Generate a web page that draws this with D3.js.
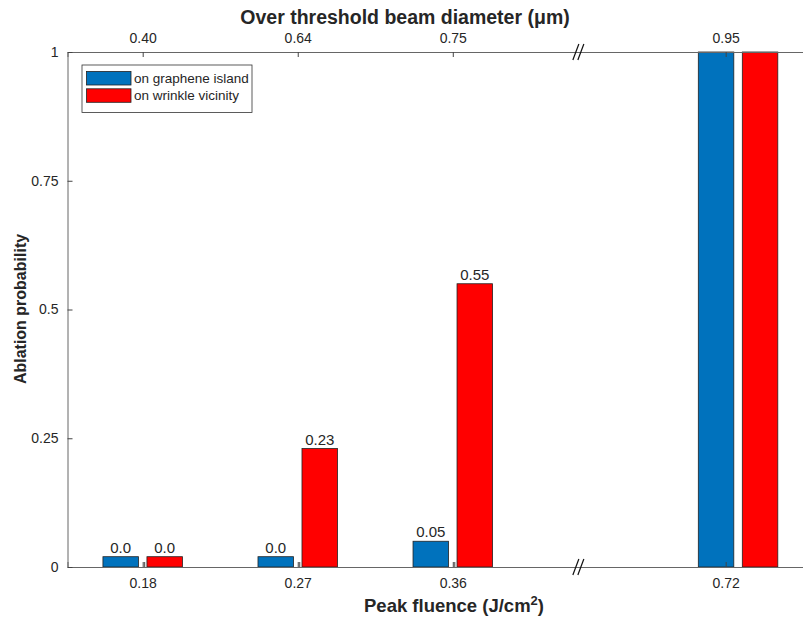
<!DOCTYPE html>
<html>
<head>
<meta charset="utf-8">
<script src="https://cdn.jsdelivr.net/npm/d3@7"></script>
<style>
  body { margin: 0; background: #fff; }
  text { font-family: "Liberation Sans", Arial, Helvetica, sans-serif; fill: #262626; }
</style>
</head>
<body>
<div id="chart"></div>
<script>
// data
var fluence = ["0.18", "0.27", "0.36", "0.72"];
var diameter = ["0.40", "0.64", "0.75", "0.95"];
var slotPos = [1, 2, 3, 4.84];      // category position of each bar group
var tickPos = [1, 2, 3, 4.76];      // category position of each tick label
var breakPos = 3.81;                 // axis break
var islandVals = [0.02, 0.02, 0.05, 1];
var wrinkleVals = [0.02, 0.23, 0.55, 1];
var islandLabels = ["0.0", "0.0", "0.05", ""];
var wrinkleLabels = ["0.0", "0.23", "0.55", ""];
var seriesNames = ["on graphene island", "on wrinkle vicinity"];
var seriesColors = ["#0072BD", "#FF0000"];
var yTicks = [0, 0.25, 0.5, 0.75, 1];

var W = 803, H = 617;
var svg = d3.select("#chart").append("svg").attr("width", W).attr("height", H);

var x = d3.scaleLinear().domain([0.515, 5.304]).range([67.5, 810]);
var y = d3.scaleLinear().domain([0, 1]).range([567, 52]);
var barW = 35.5, barOff = 22;

var series = [
  {vals: islandVals, labels: islandLabels, color: seriesColors[0], off: -barOff},
  {vals: wrinkleVals, labels: wrinkleLabels, color: seriesColors[1], off: barOff}
];

// bars
series.forEach(function(s){
  var g = svg.append("g");
  g.selectAll("rect").data(s.vals).enter().append("rect")
    .attr("x", function(d, i){ return x(slotPos[i]) + s.off - barW / 2; })
    .attr("y", function(d){ return y(d); })
    .attr("width", barW)
    .attr("height", function(d){ return y(0) - y(d); })
    .attr("fill", s.color)
    .attr("stroke", "#222")
    .attr("stroke-width", 0.8);
  g.selectAll("text").data(s.labels).enter().append("text")
    .attr("x", function(d, i){ return x(slotPos[i]) + s.off; })
    .attr("y", function(d, i){ return y(s.vals[i]) - 4; })
    .attr("text-anchor", "middle")
    .style("font-size", "15px")
    .text(function(d){ return d; });
});

// axes
var axB = d3.axisBottom(x).tickValues(tickPos).tickSize(-5)
  .tickFormat(function(d, i){ return fluence[i]; });
var axT = d3.axisTop(x).tickValues(tickPos).tickSize(-5)
  .tickFormat(function(d, i){ return diameter[i]; });
var axL = d3.axisLeft(y).tickValues(yTicks).tickSize(-5)
  .tickFormat(function(d){ return String(d); });

function styleAxis(g){
  g.attr("font-size", null).attr("font-family", null);
  g.select(".domain").attr("stroke", "#666").attr("stroke-width", 1);
  g.selectAll(".tick line").attr("stroke", "#444");
  g.selectAll(".tick text").style("font-size", "14px").attr("fill", "#262626");
}

svg.append("g").attr("transform", "translate(0," + y(0) + ")").call(axB).call(styleAxis)
  .selectAll(".tick text").attr("y", 11).attr("dy", "0.71em");
svg.append("g").attr("transform", "translate(0," + y(1) + ")").call(axT).call(styleAxis)
  .selectAll(".tick text").attr("y", -9).attr("dy", "0");
svg.append("g").attr("transform", "translate(" + x(0.515) + ",0)").call(axL).call(styleAxis)
  .selectAll(".tick text").attr("x", -9);

// second small tick next to the first three groups (doubled ticks in the original)
svg.append("g").selectAll("line").data(tickPos.slice(0, 3)).enter().append("line")
  .attr("x1", function(d){ return x(d) + 2; })
  .attr("x2", function(d){ return x(d) + 2; })
  .attr("y1", y(0)).attr("y2", y(0) - 5)
  .attr("stroke", "#444");

// axis break marks
[y(0), y(1)].forEach(function(yy){
  [-2.5, 2.5].forEach(function(dx){
    var cx = x(breakPos) + dx;
    svg.append("line")
      .attr("x1", cx - 3).attr("y1", yy + 8)
      .attr("x2", cx + 3).attr("y2", yy - 8)
      .attr("stroke", "#111").attr("stroke-width", 1.2);
  });
});

// titles
svg.append("text").attr("x", 405).attr("y", 24).attr("text-anchor", "middle")
  .style("font-size", "19.5px").style("font-weight", "bold")
  .text("Over threshold beam diameter (\u03bcm)");

var xt = svg.append("text").attr("x", 454).attr("y", 612).attr("text-anchor", "middle")
  .style("font-size", "18.5px").style("font-weight", "bold");
xt.append("tspan").text("Peak fluence (J/cm");
xt.append("tspan").attr("dy", -7).style("font-size", "13px").text("2");
xt.append("tspan").attr("dy", 7).text(")");

svg.append("text").attr("transform", "translate(26,309) rotate(-90)")
  .attr("text-anchor", "middle")
  .style("font-size", "16px").style("font-weight", "bold")
  .text("Ablation probability");

// legend
var lg = svg.append("g").attr("transform", "translate(82,65)");
lg.append("rect").attr("width", 170).attr("height", 47.5)
  .attr("fill", "#fff").attr("stroke", "#333").attr("stroke-width", 0.8);
seriesNames.forEach(function(name, i){
  lg.append("rect").attr("x", 4.5).attr("y", 6.5 + i * 17.3)
    .attr("width", 44.5).attr("height", 13.5)
    .attr("fill", seriesColors[i]).attr("stroke", "#222").attr("stroke-width", 0.8);
  lg.append("text").attr("x", 52).attr("y", 17.5 + i * 17.3)
    .style("font-size", "13.5px").text(name);
});
</script>
</body>
</html>
